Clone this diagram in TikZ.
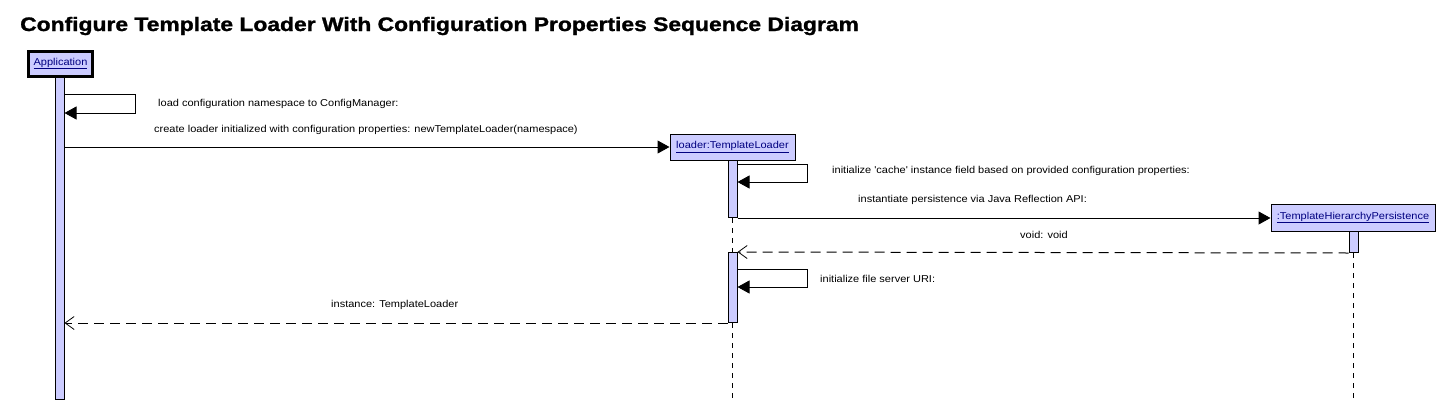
\documentclass[tikz,border=0pt]{standalone}
\usepackage{fontspec}
\usepackage{graphicx}
\setmainfont{Liberation Sans}
\newfontfamily\titlefont[FakeBold=1.2]{Liberation Sans Bold}
\usetikzlibrary{arrows.meta}
\definecolor{lav}{RGB}{204,204,255}
\definecolor{navy}{RGB}{0,0,128}
\newcommand\wtxt[1]{\scalebox{1.1}[1]{#1}}
\tikzset{
  objbox/.style={draw=black, fill=lav, line width=1pt, inner sep=0pt, font=\fontsize{10}{12}\selectfont, text=navy},
  actbar/.style={draw=black, fill=lav, line width=1pt, minimum width=9pt, inner sep=0pt, anchor=north},
  lbl/.style={font=\fontsize{10}{12}\selectfont, anchor=west, inner sep=0pt},
  msg/.style={line width=1pt, -{Triangle[length=12pt,width=13pt]}},
  ret/.style={line width=1pt, dash pattern=on 10pt off 6pt, -{Straight Barb[length=9pt,width=13pt,line width=0.8pt]}},
  life/.style={line width=1pt, dash pattern=on 5pt off 5pt}
}
\begin{document}
\begin{tikzpicture}[x=1pt,y=-1pt]
\useasboundingbox (0,0) rectangle (1449,410);
\node[anchor=base west, inner sep=0pt, font=\titlefont\fontsize{19.5}{22}\selectfont] (title) at (20,31) {\scalebox{1.172}[1]{Configure Template Loader With Configuration Properties Sequence Diagram}};

% objects
\node[objbox, line width=3pt, minimum width=64pt, minimum height=25pt] (app) at (60.5,63.5) {\wtxt{\underline{Application}}};
\node[objbox, minimum width=125pt, minimum height=26pt] (loader) at (732.5,147) {\wtxt{\underline{loader:TemplateLoader}}};
\node[objbox, minimum width=164pt, minimum height=27pt] (pers) at (1353,217.5) {\scalebox{1.1}[1]{\underline{:TemplateHierarchyPersistence}}};

% activation bars
\node[actbar, minimum height=322pt] (appbar) at (59.5,77) {};
\node[actbar, minimum height=57pt] (lbar1) at (732.5,160) {};
\node[actbar, minimum height=70pt] (lbar2) at (732.5,252) {};
\node[actbar, minimum height=21pt] (pbar) at (1353.5,231) {};

% lifelines
\coordinate (lend) at (732.5,399);
\coordinate (pend) at (1353.5,399);
\draw[life] (lbar1.south) -- (lbar2.north);
\draw[life] (lbar2.south) -- (lend);
\draw[life] (pbar.south) -- (pend);

% messages
\draw[msg] (appbar.east |- 0,94) -- (135,94) |- (appbar.east |- 0,113);
\node[lbl] (m1) at (158,104) {\wtxt{load configuration namespace to ConfigManager:}};

\draw[msg] (appbar.east |- 0,147) -- (loader.west);
\node[lbl] (m2) at (154,130) {\wtxt{create loader initialized with configuration properties: newTemplateLoader(namespace)}};

\draw[msg] (lbar1.east |- 0,164) -- (807,164) |- (lbar1.east |- 0,182);
\node[lbl] (m3) at (832,171) {\wtxt{initialize \textquotesingle cache\textquotesingle{} instance field based on provided configuration properties:}};

\draw[msg] (lbar1.south east) -- (pers.west |- lbar1.south east);
\node[lbl] (m4) at (858,200) {\wtxt{instantiate persistence via Java Reflection API:}};

\draw[ret] (pbar.south west) -- (lbar2.north east);
\node[lbl] (m5) at (1020,235) {\wtxt{void: void}};

\draw[msg] (lbar2.east |- 0,269) -- (807,269) |- (lbar2.east |- 0,287);
\node[lbl] (m6) at (820,279) {\wtxt{initialize file server URI:}};

\draw[ret] (lbar2.south west) -- (appbar.east |- lbar2.south west);
\node[lbl] (m7) at (331,305) {\wtxt{instance: TemplateLoader}};
\end{tikzpicture}
\end{document}
